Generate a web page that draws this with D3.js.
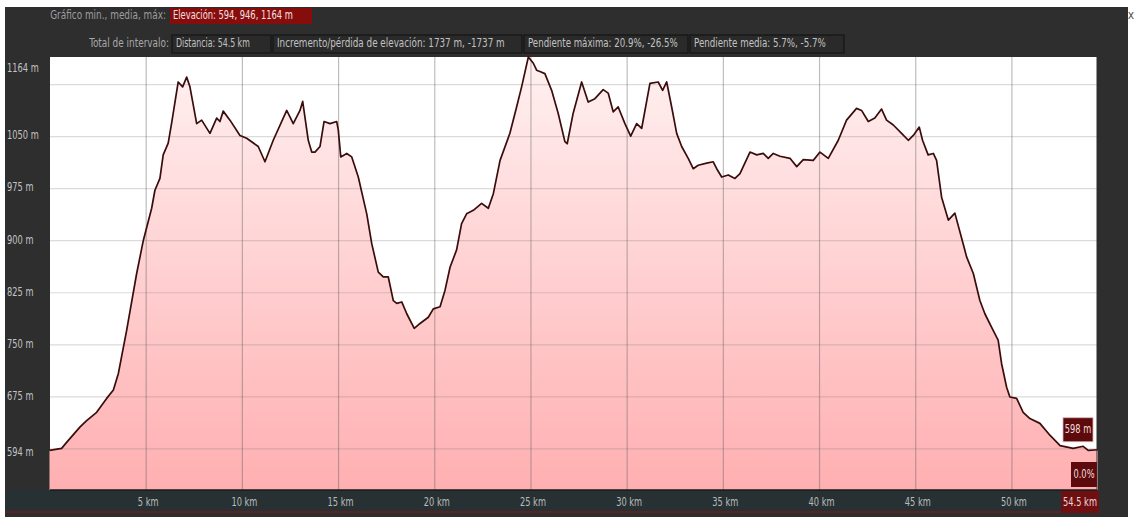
<!DOCTYPE html>
<html>
<head>
<meta charset="utf-8">
<script src="https://cdnjs.cloudflare.com/ajax/libs/d3/7.8.5/d3.min.js"></script>
<style>
  body { margin: 0; background: #ffffff; }
  text { font-family: "Liberation Sans Narrow", "DejaVu Sans Condensed", "Roboto", sans-serif; }
</style>
</head>
<body>
<script>
// profile: distance (km) and elevation (m)
var distanceKm = [0, 0.63, 0.9, 1.59, 1.93, 2.45, 2.97, 3.32, 3.58, 4.01, 4.53, 4.88, 5.31, 5.48, 5.74,
  5.91, 6.17, 6.35, 6.69, 6.92, 7.13, 7.30, 7.65, 7.91, 8.34, 8.69, 8.86, 9.03, 9.38, 9.90, 10.25,
  10.85, 11.20, 11.63, 12.33, 12.67, 13.02, 13.16, 13.45, 13.63, 13.80, 14.06, 14.27, 14.58, 14.93,
  15.01, 15.14, 15.45, 15.71, 16.05, 16.49, 16.75, 17.09, 17.35, 17.61, 17.87, 18.05, 18.31, 18.57,
  18.96, 19.26, 19.69, 19.95, 20.30, 20.56, 20.82, 21.16, 21.42, 21.68, 22.03, 22.46, 22.81, 23.07,
  23.42, 23.93, 24.28, 24.54, 24.89, 25.15, 25.32, 25.49, 25.75, 26.10, 26.44, 26.79, 26.91, 27.22,
  27.66, 28.00, 28.35, 28.78, 29.04, 29.30, 29.56, 29.91, 30.21, 30.52, 30.78, 31.21, 31.64, 31.87,
  32.08, 32.34, 32.60, 32.86, 33.20, 33.46, 33.72, 34.16, 34.50, 34.68, 34.94, 35.28, 35.63, 35.89,
  36.41, 36.76, 37.10, 37.36, 37.62, 37.97, 38.49, 38.84, 39.18, 39.70, 40.05, 40.48, 41.00, 41.43,
  41.95, 42.21, 42.56, 42.90, 43.25, 43.51, 43.86, 44.29, 44.64, 44.90, 45.21, 45.38, 45.67, 45.94,
  46.11, 46.37, 46.72, 47.06, 47.49, 47.67, 48.02, 48.36, 48.62, 49.05, 49.31, 49.49, 49.75, 49.92,
  50.27, 50.61, 50.96, 51.48, 52.00, 52.53, 53.21, 53.73, 53.99, 54.5];
var elevationM = [597, 600, 609, 631, 640, 652, 672, 684, 708, 770, 852, 900, 946, 972, 989,
  1023, 1040, 1069, 1128, 1121, 1135, 1121, 1068, 1073, 1054, 1076, 1071, 1086, 1073, 1051, 1047,
  1035, 1013, 1044, 1087, 1068, 1087, 1100, 1044, 1027, 1027, 1035, 1071, 1068, 1071,
  1059, 1020, 1025, 1020, 991, 938, 895, 854, 847, 847, 813, 809, 811, 794,
  773, 780, 789, 801, 804, 828, 861, 886, 924, 938, 943, 953, 946, 967,
  1015, 1054, 1092, 1121, 1164, 1155, 1145, 1143, 1140, 1116, 1083, 1042, 1039, 1083,
  1128, 1099, 1104, 1117, 1112, 1085, 1092, 1068, 1050, 1068, 1061, 1126, 1128, 1116,
  1128, 1092, 1054, 1035, 1018, 1003, 1008, 1011, 1013, 1003, 991, 994, 989, 996,
  1027, 1023, 1025, 1018, 1025, 1021, 1018, 1006, 1016, 1015, 1027, 1018, 1044, 1073,
  1090, 1087, 1071, 1076, 1089, 1073, 1066, 1054, 1044, 1051, 1063, 1044, 1023, 1025,
  1015, 962, 929, 939, 895, 876, 852, 813, 794, 770, 756, 722, 688, 674,
  672, 652, 643, 636, 619, 604, 600, 603, 597, 598];

// axes
var xTickKm = [5, 10, 15, 20, 25, 30, 35, 40, 45, 50];
var xEndLabel = "54.5 km";
var yGridM = [600, 675, 750, 825, 900, 975, 1050, 1125];
var yLabelM = [1164, 1050, 975, 900, 825, 750, 675, 594];

// header texts
var rowOneTitle = "Gráfico min., media, máx:";
var rowOneValue = "Elevación: 594, 946, 1164 m";
var rowTwoTitle = "Total de intervalo:";
var rowTwoItems = ["Distancia: 54.5 km", "Incremento/pérdida de elevación: 1737 m, -1737 m",
  "Pendiente máxima: 20.9%, -26.5%", "Pendiente media: 5.7%, -5.7%"];
var endElevation = "598 m";
var endSlope = "0.0%";

var W = 1134, H = 517;
var plot = {left: 50, right: 1097, top: 57, bottom: 490};
var FS = 11.5, HFS = 12.5;

// narrow a text horizontally around its own anchor point
function squeeze(sel, f) {
  sel.each(function() {
    var t = d3.select(this);
    var x0 = +t.attr("x") || 0;
    t.attr("transform", "translate(" + x0 + ",0) scale(" + (f || 0.8) + ",1) translate(" + (-x0) + ",0)");
  });
}
// same but to a wanted width
function fitWidth(sel, w) {
  sel.each(function() {
    var len = this.getComputedTextLength();
    d3.select(this).call(squeeze, w / len);
  });
}

var svg = d3.select("body").append("svg")
  .attr("width", W)
  .attr("height", H);

// dark panel behind everything
svg.append("rect")
  .attr("x", 5).attr("y", 7)
  .attr("width", 1123).attr("height", H - 7)
  .attr("fill", "#2e2e2e");

// little close mark top right
svg.append("text")
  .attr("x", 1131).attr("y", 19)
  .attr("text-anchor", "middle")
  .attr("font-size", 12)
  .attr("fill", "#555")
  .text("x");

var x = d3.scaleLinear().domain([0, 54.5]).range([49.5, 1098]);
var y = d3.scaleLinear().domain([540, 1164]).range([plot.bottom, plot.top]);

// plot background
svg.append("rect")
  .attr("x", plot.left).attr("y", plot.top)
  .attr("width", plot.right - plot.left)
  .attr("height", plot.bottom - plot.top)
  .attr("fill", "#ffffff");

var defs = svg.append("defs");
var grad = defs.append("linearGradient")
  .attr("id", "fillGrad")
  .attr("gradientUnits", "userSpaceOnUse")
  .attr("x1", 0).attr("x2", 0)
  .attr("y1", plot.top).attr("y2", plot.bottom);
grad.append("stop").attr("offset", "0%").attr("stop-color", "#fff1f1");
grad.append("stop").attr("offset", "100%").attr("stop-color", "#ffafb1");

var pts = distanceKm.map(function(d, i) { return [d, elevationM[i]]; });

var area = d3.area()
  .x(function(d) { return x(d[0]); })
  .y0(plot.bottom)
  .y1(function(d) { return y(d[1]); });

svg.append("path")
  .datum(pts)
  .attr("d", area)
  .attr("fill", "url(#fillGrad)");

// horizontal grid
svg.append("g")
  .attr("transform", "translate(" + plot.left + ",0)")
  .call(d3.axisLeft(y).tickValues(yGridM).tickSize(-(plot.right - plot.left)).tickFormat(""))
  .call(function(g) {
    g.select(".domain").remove();
    g.selectAll("line").attr("stroke", "rgba(110,110,110,0.25)").attr("stroke-width", 1.2);
  });

// vertical grid
svg.append("g")
  .attr("transform", "translate(0," + plot.bottom + ")")
  .call(d3.axisBottom(x).tickValues(xTickKm).tickSize(-(plot.bottom - plot.top)).tickFormat(""))
  .call(function(g) {
    g.select(".domain").remove();
    g.selectAll("line").attr("stroke", "rgba(90,90,90,0.4)").attr("stroke-width", 1.2);
  });

// profile line
var line = d3.line()
  .x(function(d) { return x(d[0]); })
  .y(function(d) { return y(d[1]); });

svg.append("path")
  .datum(pts)
  .attr("d", line)
  .attr("fill", "none")
  .attr("stroke", "#3b0c0c")
  .attr("stroke-width", 1.7)
  .attr("stroke-linejoin", "round");

// bottom axis band
svg.append("rect")
  .attr("x", 5).attr("y", plot.bottom)
  .attr("width", plot.right + 3 - 5).attr("height", 21)
  .attr("fill", "#273133");
svg.append("rect")
  .attr("x", 5).attr("y", plot.bottom + 21)
  .attr("width", plot.right + 3 - 5).attr("height", 2)
  .attr("fill", "#5a2323");
svg.append("line")
  .attr("x1", plot.left).attr("x2", plot.right)
  .attr("y1", plot.bottom).attr("y2", plot.bottom)
  .attr("stroke", "#1a1a1a").attr("stroke-width", 1.5);

// x tick labels
var xAxis = svg.append("g")
  .attr("transform", "translate(2," + (plot.bottom + 13) + ")")
  .call(d3.axisBottom(x).tickValues(xTickKm).tickSize(0).tickFormat(function(d) { return d + " km"; }));
xAxis.select(".domain").remove();
xAxis.selectAll("text")
  .attr("dy", "0")
  .attr("y", 0)
  .attr("x", 0)
  .attr("dominant-baseline", "middle")
  .attr("font-size", FS)
  .attr("fill", "#b9bcbc")
  .call(squeeze);

// end distance marker
svg.append("rect")
  .attr("x", x(54.5) - 37).attr("y", plot.bottom + 1)
  .attr("width", 38).attr("height", 22)
  .attr("fill", "#6e0f12");
svg.append("text")
  .attr("x", x(54.5) - 18).attr("y", plot.bottom + 13)
  .attr("text-anchor", "middle")
  .attr("dominant-baseline", "middle")
  .attr("font-size", FS)
  .attr("fill", "#eed6d6")
  .text(xEndLabel)
  .call(squeeze);

// y labels
svg.append("g").selectAll("text")
  .data(yLabelM)
  .join("text")
  .attr("x", 7)
  .attr("y", function(d) { return d == 1164 ? y(d) + 12 : y(d); })
  .attr("dominant-baseline", "middle")
  .attr("font-size", FS)
  .attr("fill", "#c4c4c4")
  .text(function(d) { return d + " m"; })
  .call(squeeze);

// end markers at right edge
var lastY = y(elevationM[elevationM.length - 1]);
svg.append("rect")
  .attr("x", 1063).attr("y", lastY - 32)
  .attr("width", 30).attr("height", 24)
  .attr("fill", "#5c0a0c")
  .attr("stroke", "#d9b4b4").attr("stroke-width", 0.8);
svg.append("text")
  .attr("x", 1078).attr("y", lastY - 20)
  .attr("text-anchor", "middle")
  .attr("dominant-baseline", "middle")
  .attr("font-size", FS)
  .attr("fill", "#f2dede")
  .text(endElevation)
  .call(squeeze);

svg.append("rect")
  .attr("x", 1071).attr("y", 462)
  .attr("width", 26).attr("height", 25)
  .attr("fill", "#5c0a0c");
svg.append("text")
  .attr("x", 1084).attr("y", 475)
  .attr("text-anchor", "middle")
  .attr("dominant-baseline", "middle")
  .attr("font-size", FS)
  .attr("fill", "#f2dede")
  .text(endSlope)
  .call(squeeze);

svg.append("line")
  .attr("x1", plot.right).attr("x2", plot.right)
  .attr("y1", plot.top).attr("y2", plot.bottom)
  .attr("stroke", "#2e2e2e").attr("stroke-width", 1);

// header row one
svg.append("text")
  .attr("x", 166).attr("y", 15.5)
  .attr("text-anchor", "end")
  .attr("dominant-baseline", "middle")
  .attr("font-size", HFS)
  .attr("fill", "#9d9d9d")
  .text(rowOneTitle)
  .call(fitWidth, 116);
svg.append("rect")
  .attr("x", 170).attr("y", 8)
  .attr("width", 142).attr("height", 16)
  .attr("fill", "#870c0c");
svg.append("text")
  .attr("x", 173).attr("y", 16)
  .attr("dominant-baseline", "middle")
  .attr("font-size", HFS)
  .attr("fill", "#f4e0e0")
  .text(rowOneValue)
  .call(fitWidth, 120);

// header row two
svg.append("text")
  .attr("x", 169).attr("y", 44)
  .attr("text-anchor", "end")
  .attr("dominant-baseline", "middle")
  .attr("font-size", HFS)
  .attr("fill", "#a8a8a8")
  .text(rowTwoTitle)
  .call(fitWidth, 80);

var boxEdges = [172, 273, 524, 690, 846];
var itemWidths = [74, 228, 150, 132];
rowTwoItems.forEach(function(t, i) {
  svg.append("rect")
    .attr("x", boxEdges[i]).attr("y", 35)
    .attr("width", boxEdges[i + 1] - boxEdges[i] - 2).attr("height", 18)
    .attr("fill", "#2a2a2a")
    .attr("stroke", "#151515").attr("stroke-width", 1.2);
  svg.append("text")
    .attr("x", boxEdges[i] + 4).attr("y", 44)
    .attr("dominant-baseline", "middle")
    .attr("font-size", HFS)
    .attr("fill", "#c2c2c2")
    .text(t)
    .call(fitWidth, itemWidths[i]);
});
</script>
</body>
</html>
